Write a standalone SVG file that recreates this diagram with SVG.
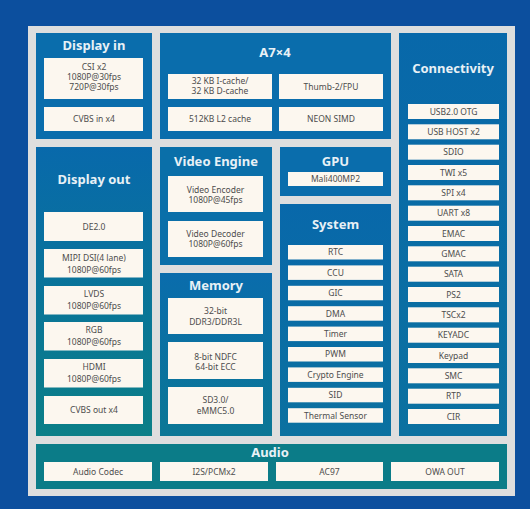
<svg xmlns="http://www.w3.org/2000/svg" width="530" height="509" viewBox="0 0 530 509">
<defs>
<linearGradient id="gTeal" x1="0" y1="0" x2="0" y2="1">
<stop offset="0" stop-color="#0869ab"/>
<stop offset="1" stop-color="#0b7f87"/>
</linearGradient>
<linearGradient id="gMid" x1="0" y1="0" x2="0" y2="1">
<stop offset="0" stop-color="#0a6cac"/>
<stop offset="1" stop-color="#0b7795"/>
</linearGradient>
<linearGradient id="gBlue" x1="0" y1="0" x2="0" y2="1">
<stop offset="0" stop-color="#0868aa"/>
<stop offset="1" stop-color="#0b71a0"/>
</linearGradient>
</defs>
<style>
.t{font-family:"Noto Sans","Liberation Sans",sans-serif;font-size:13px;font-weight:bold;fill:#e8f1f6;text-anchor:middle}
.b{fill:#fcf7ef}
.l{font-family:"Noto Sans","Liberation Sans",sans-serif;font-size:8.5px;fill:#4d4d4d;text-anchor:middle}
</style>
<rect width="530" height="509" fill="#0c4f9e"/>
<rect x="28" y="26" width="487" height="470" fill="#dedede"/>

<g id="display-in">
<rect x="36" y="33" width="116" height="106" fill="#0a6dac"/>
<text class="t" x="94" y="50">Display in</text>
<rect class="b" x="44" y="58" width="99" height="41"/>
<text class="l" x="94" y="70">CSI x2</text>
<text class="l" x="94" y="80">1080P@30fps</text>
<text class="l" x="94" y="90">720P@30fps</text>
<rect class="b" x="44" y="107" width="99" height="24"/>
<text class="l" x="94" y="122">CVBS in x4</text>
</g>

<g id="a7">
<rect x="160" y="33" width="231" height="106" fill="#0a6dac"/>
<text class="t" x="275" y="57">A7×4</text>
<rect class="b" x="168" y="74" width="104" height="25"/>
<text class="l" x="220" y="84">32 KB I-cache/</text>
<text class="l" x="220" y="94">32 KB D-cache</text>
<rect class="b" x="279" y="74" width="104" height="25"/>
<text class="l" x="331" y="89.5">Thumb-2/FPU</text>
<rect class="b" x="168" y="107" width="104" height="24"/>
<text class="l" x="220" y="122">512KB L2 cache</text>
<rect class="b" x="279" y="107" width="104" height="24"/>
<text class="l" x="331" y="122">NEON SIMD</text>
</g>

<g id="connectivity">
<rect x="399" y="33" width="108" height="403" fill="url(#gBlue)"/>
<text class="t" x="453" y="73">Connectivity</text>
<rect class="b" x="408" y="104" width="91" height="15"/><text class="l" x="453.5" y="114.5">USB2.0 OTG</text>
<rect class="b" x="408" y="124.3" width="91" height="15"/><text class="l" x="453.5" y="134.8">USB HOST x2</text>
<rect class="b" x="408" y="144.7" width="91" height="15"/><text class="l" x="453.5" y="155.2">SDIO</text>
<rect class="b" x="408" y="165" width="91" height="15"/><text class="l" x="453.5" y="175.5">TWI x5</text>
<rect class="b" x="408" y="185.3" width="91" height="15"/><text class="l" x="453.5" y="195.8">SPI x4</text>
<rect class="b" x="408" y="205.7" width="91" height="15"/><text class="l" x="453.5" y="216.2">UART x8</text>
<rect class="b" x="408" y="226" width="91" height="15"/><text class="l" x="453.5" y="236.5">EMAC</text>
<rect class="b" x="408" y="246.3" width="91" height="15"/><text class="l" x="453.5" y="256.8">GMAC</text>
<rect class="b" x="408" y="266.7" width="91" height="15"/><text class="l" x="453.5" y="277.2">SATA</text>
<rect class="b" x="408" y="287" width="91" height="15"/><text class="l" x="453.5" y="297.5">PS2</text>
<rect class="b" x="408" y="307.3" width="91" height="15"/><text class="l" x="453.5" y="317.8">TSCx2</text>
<rect class="b" x="408" y="327.7" width="91" height="15"/><text class="l" x="453.5" y="338.2">KEYADC</text>
<rect class="b" x="408" y="348" width="91" height="15"/><text class="l" x="453.5" y="358.5">Keypad</text>
<rect class="b" x="408" y="368.3" width="91" height="15"/><text class="l" x="453.5" y="378.8">SMC</text>
<rect class="b" x="408" y="388.7" width="91" height="15"/><text class="l" x="453.5" y="399.2">RTP</text>
<rect class="b" x="408" y="409" width="91" height="15"/><text class="l" x="453.5" y="419.5">CIR</text>
</g>

<g id="display-out">
<rect x="36" y="147" width="116" height="289" fill="url(#gTeal)"/>
<text class="t" x="94" y="184">Display out</text>
<rect class="b" x="44" y="212" width="99" height="29"/>
<text class="l" x="94" y="229.5">DE2.0</text>
<rect class="b" x="44" y="249" width="99" height="28.5"/>
<text class="l" x="94" y="261">MIPI DSI(4 lane)</text>
<text class="l" x="94" y="273">1080P@60fps</text>
<rect class="b" x="44" y="286" width="99" height="28.5"/>
<text class="l" x="94" y="297">LVDS</text>
<text class="l" x="94" y="309">1080P@60fps</text>
<rect class="b" x="44" y="322" width="99" height="28.5"/>
<text class="l" x="94" y="333">RGB</text>
<text class="l" x="94" y="345">1080P@60fps</text>
<rect class="b" x="44" y="359" width="99" height="28.5"/>
<text class="l" x="94" y="370">HDMI</text>
<text class="l" x="94" y="382">1080P@60fps</text>
<rect class="b" x="44" y="396" width="99" height="28"/>
<text class="l" x="94" y="413">CVBS out x4</text>
</g>

<g id="video-engine">
<rect x="160" y="147" width="112" height="118" fill="#0a6fa9"/>
<text class="t" x="216" y="166">Video Engine</text>
<rect class="b" x="168" y="176" width="95" height="36"/>
<text class="l" x="215.5" y="193">Video Encoder</text>
<text class="l" x="215.5" y="203">1080P@45fps</text>
<rect class="b" x="168" y="221" width="95" height="36"/>
<text class="l" x="215.5" y="237">Video Decoder</text>
<text class="l" x="215.5" y="247">1080P@60fps</text>
</g>

<g id="memory">
<rect x="160" y="273" width="112" height="163" fill="url(#gMid)"/>
<text class="t" x="216" y="290">Memory</text>
<rect class="b" x="168" y="298" width="95" height="36"/>
<text class="l" x="215.5" y="314">32-bit</text>
<text class="l" x="215.5" y="324.5">DDR3/DDR3L</text>
<rect class="b" x="168" y="342" width="95" height="37"/>
<text class="l" x="215.5" y="359.5">8-bit NDFC</text>
<text class="l" x="215.5" y="370">64-bit ECC</text>
<rect class="b" x="168" y="387" width="95" height="37"/>
<text class="l" x="215.5" y="403">SD3.0/</text>
<text class="l" x="215.5" y="414">eMMC5.0</text>
</g>

<g id="gpu">
<rect x="280" y="147" width="111" height="49" fill="#0a6dac"/>
<text class="t" x="335.5" y="166">GPU</text>
<rect class="b" x="288" y="172" width="95" height="14"/>
<text class="l" x="335.5" y="182">Mali400MP2</text>
</g>

<g id="system">
<rect x="280" y="204" width="111" height="232" fill="url(#gBlue)"/>
<text class="t" x="335.5" y="229">System</text>
<rect class="b" x="288" y="245" width="95" height="14.5"/><text class="l" x="335.5" y="255.3">RTC</text>
<rect class="b" x="288" y="265.4" width="95" height="14.5"/><text class="l" x="335.5" y="275.7">CCU</text>
<rect class="b" x="288" y="285.8" width="95" height="14.5"/><text class="l" x="335.5" y="296.1">GIC</text>
<rect class="b" x="288" y="306.2" width="95" height="14.5"/><text class="l" x="335.5" y="316.5">DMA</text>
<rect class="b" x="288" y="326.6" width="95" height="14.5"/><text class="l" x="335.5" y="336.9">Timer</text>
<rect class="b" x="288" y="347" width="95" height="14.5"/><text class="l" x="335.5" y="357.3">PWM</text>
<rect class="b" x="288" y="367.4" width="95" height="14.5"/><text class="l" x="335.5" y="377.7">Crypto Engine</text>
<rect class="b" x="288" y="387.8" width="95" height="14.5"/><text class="l" x="335.5" y="398.1">SID</text>
<rect class="b" x="288" y="408.2" width="95" height="14.5"/><text class="l" x="335.5" y="418.5">Thermal Sensor</text>
</g>

<g id="audio">
<rect x="36" y="444" width="471" height="45" fill="#0b7c88"/>
<text class="t" x="270" y="457">Audio</text>
<rect class="b" x="44" y="462" width="108" height="19"/><text class="l" x="98" y="474.5">Audio Codec</text>
<rect class="b" x="160" y="462" width="108" height="19"/><text class="l" x="214" y="474.5">I2S/PCMx2</text>
<rect class="b" x="276" y="462" width="107" height="19"/><text class="l" x="329.5" y="474.5">AC97</text>
<rect class="b" x="391" y="462" width="108" height="19"/><text class="l" x="445" y="474.5">OWA OUT</text>
</g>

<g id="connectors"></g>
</svg>
